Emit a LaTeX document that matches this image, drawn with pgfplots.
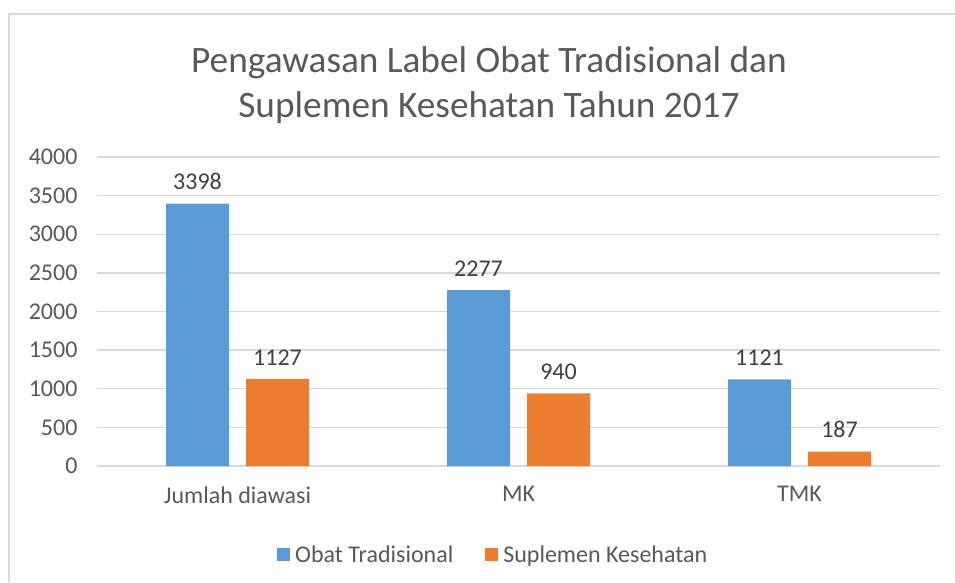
\documentclass[border=0pt]{standalone}
\usepackage{fontspec}
\setmainfont{Carlito}
\usepackage{pgfplots}
\pgfplotsset{compat=1.18}
\definecolor{cblue}{HTML}{5B9BD5}
\definecolor{corange}{HTML}{ED7D31}
\definecolor{cgrid}{HTML}{D9D9D9}
\definecolor{ctext}{HTML}{595959}
\definecolor{clab}{HTML}{404040}
\begin{document}
\begin{tikzpicture}[x=1pt,y=1pt]
\path[use as bounding box] (0,0) rectangle (955,582);
\draw[cgrid,line width=2pt] (8.5,0) -- (8.5,568) -- (955,568);
\node[text=ctext,font=\fontsize{37.3}{45}\selectfont,align=center] at (489,497) {Pengawasan Label Obat Tradisional dan\\Suplemen Kesehatan Tahun 2017};
\begin{axis}[
  at={(97pt,116pt)}, anchor=south west,
  scale only axis, width=843pt, height=309pt,
  ybar=17pt, bar width=63pt,
  xmin=-0.5, xmax=2.5, ymin=0, ymax=4000,
  xtick={0,1,2}, xticklabels={Jumlah diawasi,MK,TMK},
  ytick={0,500,...,4000},
  ymajorgrids, grid style={cgrid,line width=1.3pt},
  axis x line*=bottom, axis y line*=left,
  x axis line style={draw=cgrid,line width=1.3pt,-},
  y axis line style={draw=none},
  major tick length=0pt,
  tick label style={font=\fontsize{24}{28}\selectfont,text=ctext},
  /pgf/number format/assume math mode=true,
  /pgf/number format/1000 sep={},
  yticklabel style={xshift=-16pt},
  xticklabel style={yshift=-17pt},
  nodes near coords,
  every node near coord/.append style={font=\fontsize{24}{28}\selectfont,text=clab,yshift=10pt},
  legend columns=2,
  legend style={draw=none,at={(0.470,-0.288)},anchor=center,font=\fontsize{24}{28}\selectfont,text=ctext,
    /tikz/every even column/.append style={column sep=30pt},
    /tikz/every odd column/.append style={column sep=3pt}},
  legend image code/.code={\fill[#1,draw=none] (0pt,-6.5pt) rectangle (13pt,6.5pt);},
]
\addplot[fill=cblue,draw=none] coordinates {(0,3398) (1,2277) (2,1121)};
\addplot[fill=corange,draw=none] coordinates {(0,1127) (1,940) (2,187)};
\legend{Obat Tradisional,Suplemen Kesehatan}
\end{axis}
\end{tikzpicture}
\end{document}
